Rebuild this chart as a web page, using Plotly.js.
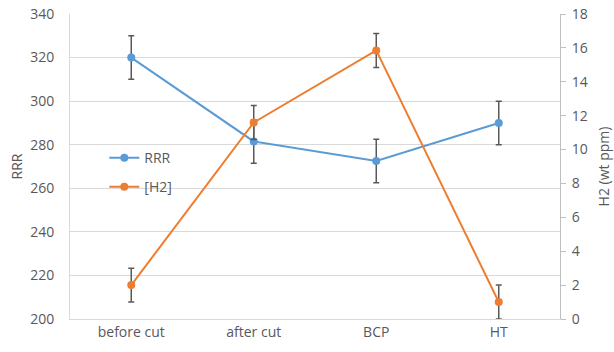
<!DOCTYPE html>
<html><head><meta charset="utf-8">
<script src="https://cdn.plot.ly/plotly-3.0.1.min.js"></script>
<style>html,body{margin:0;padding:0;background:#fff}</style>
</head><body><div id="chart" style="width:614px;height:352px"></div>
<script>
const categories = ["before cut", "after cut", "BCP", "HT"];
const rrr = [320, 281.5, 272.5, 290];
const rrrErr = [10, 10, 10, 10];
const h2 = [2, 11.6, 15.85, 1];
const h2Err = [1, 1, 1, 1];
const rrrTicks = [200, 220, 240, 260, 280, 300, 320, 340];
const h2Ticks = [0, 2, 4, 6, 8, 10, 12, 14, 16, 18];

const font = {family: "Open Sans, Liberation Sans, sans-serif", size: 14, color: "#595959"};
const errStyle = {type: "data", visible: true, color: "#595959", thickness: 1.5, width: 3};

const traces = [
  {x: categories, y: rrr, name: "RRR", type: "scatter", mode: "lines+markers",
   line: {color: "#5B9BD5", width: 2}, marker: {color: "#5B9BD5", size: 8},
   error_y: Object.assign({array: rrrErr}, errStyle), legend: "legend", yaxis: "y"},
  {x: categories, y: h2, name: "[H2]", type: "scatter", mode: "lines+markers",
   line: {color: "#ED7D31", width: 2}, marker: {color: "#ED7D31", size: 8},
   error_y: Object.assign({array: h2Err}, errStyle), legend: "legend2", yaxis: "y2"}
];

const layout = {
  width: 614, height: 352,
  margin: {l: 70, r: 54, t: 14, b: 33},
  paper_bgcolor: "#fff", plot_bgcolor: "#fff",
  font: font,
  xaxis: {type: "category", range: [-0.5, 3.5], showgrid: false, showline: true,
          linecolor: "#d9d9d9", linewidth: 1, ticks: "", zeroline: false, tickfont: font},
  yaxis: {range: [200, 340], tickvals: rrrTicks, showgrid: true, gridcolor: "#d9d9d9",
          showline: true, linecolor: "#d9d9d9", zeroline: false, ticks: "", ticklabelstandoff: 12,
          title: {text: "RRR", font: font, standoff: 4}, tickfont: font},
  yaxis2: {range: [0, 18], tickvals: h2Ticks, overlaying: "y", side: "right", showgrid: false,
           showline: true, linecolor: "#bfbfbf", zeroline: false, ticks: "outside", ticklen: 5,
           ticklabelstandoff: 3,
           tickcolor: "#bfbfbf", title: {text: "H2 (wt ppm)", font: font, standoff: 12}, tickfont: font},
  legend: {x: 0.07, y: 0.58, xanchor: "left", yanchor: "top", bgcolor: "rgba(0,0,0,0)", font: font},
  legend2: {x: 0.07, y: 0.485, xanchor: "left", yanchor: "top", bgcolor: "rgba(0,0,0,0)", font: font},
  showlegend: true
};
Plotly.newPlot("chart", traces, layout, {staticPlot: true, displayModeBar: false});
</script></body></html>
